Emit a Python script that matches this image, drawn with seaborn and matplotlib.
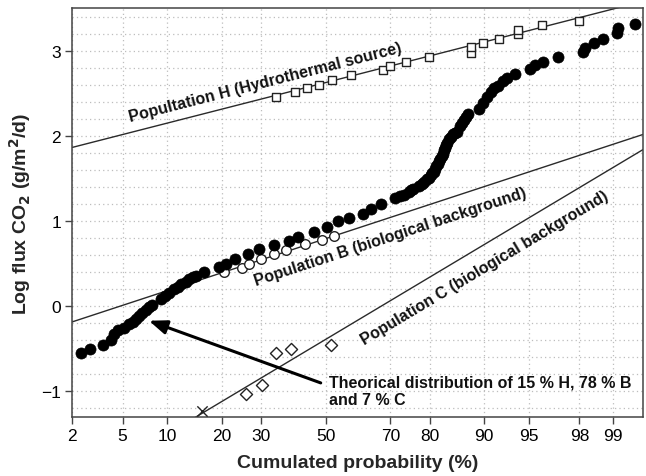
import numpy as np
import pandas as pd
import matplotlib
matplotlib.use("Agg")
import matplotlib.pyplot as plt
import seaborn as sns
from matplotlib.ticker import FixedLocator, MultipleLocator, FixedFormatter
from statistics import NormalDist

# ---------------- data ----------------
# measured fluxes (filled circles)
dist_p = [2.4, 2.8, 3.6, 4.1, 4.3, 4.6, 5.1, 5.6, 5.9, 6.25, 6.55, 6.85, 7.3, 7.6, 8.0,
          9.1, 9.65, 10.2, 10.95, 11.6, 12.05, 12.9, 13.4, 14.1, 14.7, 16.2, 19.4, 21.0,
          23.1, 26.4, 29.4, 33.7, 38.2, 41.1, 46.1, 50.3, 53.9, 57.4, 61.8, 64.2, 67.2,
          71.4, 72.6, 73.6, 74.9, 75.6, 76.1, 77.4, 78.3, 78.8, 79.3, 79.8, 80.2, 80.6,
          80.9, 81.2, 81.5, 81.8, 82.0, 82.3, 82.6, 82.8, 83.0, 83.2, 83.4, 83.7, 84.0,
          84.4, 84.8, 85.2, 85.7, 86.2, 86.5, 86.9, 87.2, 87.6, 89.3, 89.8, 90.4, 90.9,
          91.4, 91.9, 92.5, 92.9, 93.7, 95.1, 95.5, 96.1, 97.0, 98.15, 98.2, 98.5, 98.77,
          99.09, 99.11, 99.39]
dist_y = [-0.55, -0.50, -0.46, -0.40, -0.33, -0.28, -0.25, -0.21, -0.18, -0.15, -0.12,
          -0.08, -0.05, -0.01, 0.02, 0.08, 0.12, 0.15, 0.20, 0.23, 0.26, 0.29, 0.32, 0.34,
          0.36, 0.40, 0.46, 0.50, 0.56, 0.61, 0.67, 0.72, 0.77, 0.81, 0.87, 0.93, 1.00,
          1.04, 1.08, 1.14, 1.20,
          1.27, 1.29, 1.31, 1.34, 1.36, 1.37, 1.41, 1.44, 1.46, 1.49, 1.51, 1.54, 1.56,
          1.58, 1.61, 1.64, 1.67, 1.70, 1.73, 1.76, 1.79, 1.83, 1.86, 1.89, 1.92, 1.96,
          1.99, 2.02, 2.03, 2.05, 2.11, 2.15, 2.19, 2.22, 2.26, 2.31, 2.39, 2.45, 2.51,
          2.56, 2.59, 2.64, 2.68, 2.72, 2.78, 2.83, 2.87, 2.93, 2.98, 3.03, 3.09, 3.14,
          3.21, 3.26, 3.31]

# population H (open squares)
h_p = [34.3, 40.1, 44.1, 48.0, 52.2, 58.0, 67.9, 70.0, 74.1, 79.9, 88.0, 88.0, 89.9,
       92.0, 94.0, 94.0, 96.0, 97.98]
h_y = [2.45, 2.51, 2.56, 2.60, 2.66, 2.71, 2.77, 2.82, 2.87, 2.93, 2.97, 3.04, 3.09,
       3.14, 3.19, 3.24, 3.30, 3.35]

# population B (open circles)
b_p = [20.6, 25.0, 26.8, 30.0, 33.8, 37.3, 43.3, 48.9, 52.7]
b_y = [0.40, 0.45, 0.50, 0.56, 0.61, 0.66, 0.73, 0.78, 0.83]

# population C (open diamonds, one cross)
c_p = [25.9, 30.3, 34.5, 38.9, 51.6]
c_y = [-1.03, -0.92, -0.55, -0.50, -0.45]
cx_p = [15.9]
cx_y = [-1.23]

# fitted lines: mean and standard deviation (log units)
pop_names = ["H", "B", "C"]
pop_mu = [2.625, 0.793, -0.389]
pop_sd = [0.371, 0.476, 0.867]
pop_labels = ["Popultation H (Hydrothermal source)",
              "Population B (biological background)",
              "Population C (biological background)"]
label_p = [31.1, 70.0, 90.1]
label_y = [2.63, 0.82, 0.46]

note_text = "Theorical distribution of 15 % H, 78 % B\nand 7 % C"
note_pos = (51.0, -0.99)
arrow_tail = (48.4, -0.90)
arrow_head = (7.62, -0.17)

xticks = [2, 5, 10, 20, 30, 50, 70, 80, 90, 95, 98, 99]
yticks = [-1, 0, 1, 2, 3]

# ---------------- probability scale ----------------
_nd = NormalDist()
_ppf = np.vectorize(_nd.inv_cdf, otypes=[float])
_cdf = np.vectorize(_nd.cdf, otypes=[float])


def fwd(p):
    p = np.clip(np.asarray(p, dtype=float) / 100.0, 1e-9, 1 - 1e-9)
    return _ppf(p)


def inv(z):
    return _cdf(np.asarray(z, dtype=float)) * 100.0


# ---------------- figure ----------------
sns.set_theme(style="white")
plt.rcParams["font.family"] = ["Liberation Sans", "DejaVu Sans"]

fig = plt.figure(figsize=(6.46, 4.77), dpi=100)
ax = fig.add_axes([72 / 646, 59 / 477, 571 / 646, 409 / 477])
ax.set_xscale("function", functions=(fwd, inv))

line_p = [0.5, 99.95]
lines_df = pd.DataFrame({
    "p": line_p * 3,
    "y": [m + s * float(fwd(q)) for m, s in zip(pop_mu, pop_sd) for q in line_p],
    "pop": [n for n in pop_names for _ in line_p],
})
sns.lineplot(data=lines_df, x="p", y="y", units="pop", estimator=None, color="#2a2a2a",
             lw=1.0, ax=ax, zorder=2, sort=False)

df_main = pd.DataFrame({"p": dist_p, "y": dist_y})
df_h = pd.DataFrame({"p": h_p, "y": h_y})
df_b = pd.DataFrame({"p": b_p, "y": b_y})
df_c = pd.DataFrame({"p": c_p, "y": c_y})
df_cx = pd.DataFrame({"p": cx_p, "y": cx_y})

sns.scatterplot(data=df_h, x="p", y="y", marker="s", s=40, facecolor="white",
                edgecolor="#222222", linewidth=1.0, ax=ax, zorder=4)
sns.scatterplot(data=df_b, x="p", y="y", marker="o", s=48, facecolor="white",
                edgecolor="#222222", linewidth=1.0, ax=ax, zorder=3)
sns.scatterplot(data=df_main, x="p", y="y", marker="o", s=64, color="black",
                edgecolor="black", linewidth=0.5, ax=ax, zorder=5)
sns.scatterplot(data=df_c, x="p", y="y", marker="D", s=38, facecolor="white",
                edgecolor="#222222", linewidth=1.0, ax=ax, zorder=4)
sns.scatterplot(data=df_cx, x="p", y="y", marker="x", s=55, color="#222222",
                linewidth=1.0, ax=ax, zorder=4)

ax.set_xlim(2, 99.49)
ax.set_ylim(-1.3, 3.5)

ax.xaxis.set_major_locator(FixedLocator(xticks))
ax.xaxis.set_major_formatter(FixedFormatter([str(t) for t in xticks]))
ax.xaxis.set_minor_locator(FixedLocator([]))
ax.yaxis.set_major_locator(FixedLocator(yticks))
ax.yaxis.set_minor_locator(MultipleLocator(0.2))

ax.grid(True, which="major", axis="x", linestyle=(0, (1, 2.5)), color="#bdbdbd", lw=0.9)
ax.grid(True, which="both", axis="y", linestyle=(0, (1, 2.5)), color="#bdbdbd", lw=0.9)
ax.set_axisbelow(True)

ax.tick_params(axis="both", which="major", direction="out", length=5, width=1,
               color="#444444", labelsize=12.5, labelcolor="black", pad=3,
               bottom=True, left=True)
ax.tick_params(axis="y", which="minor", length=0)
for sp in ax.spines.values():
    sp.set_color("#444444")
    sp.set_linewidth(1.1)

ax.set_xlabel("Cumulated probability (%)", fontsize=14, fontweight="bold", labelpad=8)
ax.set_ylabel("Log flux CO$_\\mathbf{2}$ (g/m$^\\mathbf{2}$/d)", fontsize=14,
              fontweight="bold", labelpad=6)

# labels along fitted lines
fig.canvas.draw()
for mu, sd, txt, lp, ly in zip(pop_mu, pop_sd, pop_labels, label_p, label_y):
    q1, q2 = 20.0, 80.0
    d1 = ax.transData.transform((q1, mu + sd * float(fwd(q1))))
    d2 = ax.transData.transform((q2, mu + sd * float(fwd(q2))))
    ang = np.degrees(np.arctan2(d2[1] - d1[1], d2[0] - d1[0]))
    ax.text(lp, ly, txt, rotation=ang, rotation_mode="anchor", ha="center", va="center",
            fontsize=11.5, fontweight="bold", color="#111111", zorder=6)

ax.text(note_pos[0], note_pos[1], note_text, ha="left", va="center", fontsize=11.5,
        fontweight="bold", linespacing=1.25, color="#111111", zorder=7)
ax.annotate("", xy=arrow_head, xytext=arrow_tail, textcoords="data", zorder=7,
            arrowprops=dict(arrowstyle="-|>,head_length=0.9,head_width=0.35",
                            color="black", lw=2.2, shrinkA=0, shrinkB=0))

fig.savefig("out.png", dpi=100)
